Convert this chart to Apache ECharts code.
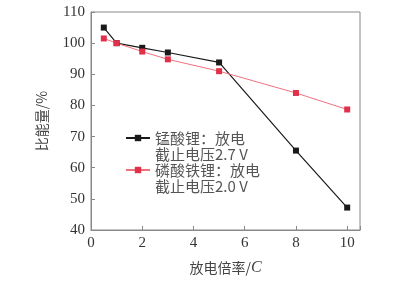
<!DOCTYPE html>
<html><head><meta charset="utf-8">
<script src="https://cdn.jsdelivr.net/npm/echarts@6/dist/echarts.min.js"></script>
<style>html,body{margin:0;padding:0;background:#fff}#c{width:403px;height:281px}</style>
</head><body><div id="c"></div>
<script>
const rates = [0.5, 1, 2, 3, 5, 8, 10];
const lmoValues = [105, 100, 98.5, 97, 93.8, 65.5, 47.2];
const lfpValues = [101.5, 100, 97.3, 94.8, 91, 84, 78.7];
const lmoName = '锰酸锂：放电\n截止电压2.7 V';
const lfpName = '磷酸铁锂：放电\n截止电压2.0 V';
const xTicks = [0, 2, 4, 6, 8, 10];
const yTicks = [40, 50, 60, 70, 80, 90, 100, 110];

const serif = 'Liberation Serif';
const cjk = 'Noto Sans CJK SC';
const chart = echarts.init(document.getElementById('c'));
chart.setOption({
  animation: false,
  grid: {left: 91, right: 43, top: 12, bottom: 47, show: true, borderColor: '#888', borderWidth: 1},
  xAxis: {
    type: 'value', min: 0, max: 10.5, interval: 2,
    axisLine: {show: true, lineStyle: {color: '#888'}},
    axisTick: {show: true, inside: true, length: 4, lineStyle: {color: '#888'}},
    splitLine: {show: false},
    axisLabel: {color: '#333', fontFamily: serif, fontSize: 15, margin: 6,
      formatter: v => xTicks.includes(v) ? String(v) : ''},
    name: '放电倍率/{i|C}', nameLocation: 'middle', nameGap: 30,
    nameTextStyle: {color: '#444', fontFamily: cjk, fontSize: 14,
      rich: {i: {fontFamily: serif, fontStyle: 'italic', fontSize: 16, color: '#444'}}}
  },
  yAxis: {
    type: 'value', min: 40, max: 110, interval: 10,
    axisLine: {show: true, lineStyle: {color: '#888'}},
    axisTick: {show: true, inside: true, length: 4, lineStyle: {color: '#888'}},
    splitLine: {show: false},
    axisLabel: {color: '#333', fontFamily: serif, fontSize: 15, margin: 6,
      formatter: v => yTicks.includes(v) ? String(v) : ''},
    name: '比能量/%', nameLocation: 'middle', nameGap: 42, nameRotate: 90,
    nameTextStyle: {color: '#444', fontFamily: cjk, fontSize: 14}
  },
  legend: {
    left: 120, top: 109, orient: 'vertical', itemGap: -16,
    itemWidth: 24, itemHeight: 8,
    data: [lmoName, lfpName],
    formatter: n => ' \n' + n,
    textStyle: {fontFamily: cjk, fontSize: 15, color: '#555', lineHeight: 16}
  },
  series: [
    {name: lmoName, type: 'line', data: rates.map((r, i) => [r, lmoValues[i]]),
      symbol: 'rect', symbolSize: 6, color: '#1a1a1a',
      lineStyle: {color: '#1a1a1a', width: 1.2}, itemStyle: {color: '#1a1a1a'}},
    {name: lfpName, type: 'line', data: rates.map((r, i) => [r, lfpValues[i]]),
      symbol: 'rect', symbolSize: 6, color: '#e0304a',
      lineStyle: {color: '#f0707e', width: 1}, itemStyle: {color: '#e0304a'}}
  ]
});
</script></body></html>
